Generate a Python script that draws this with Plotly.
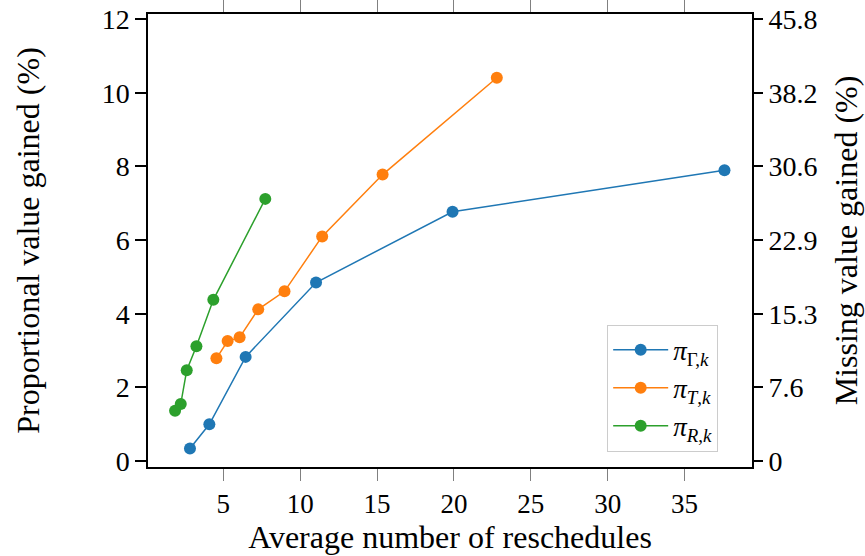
import plotly.graph_objects as go

# Data
gamma_x = [2.83, 4.09, 6.45, 11.03, 19.91, 37.60]
gamma_y = [0.34, 1.00, 2.83, 4.85, 6.77, 7.90]

t_x = [4.55, 5.28, 6.06, 7.27, 8.98, 11.43, 15.36, 22.79]
t_y = [2.79, 3.26, 3.36, 4.12, 4.61, 6.10, 7.78, 10.41]

r_x = [1.86, 2.23, 2.62, 3.25, 4.35, 7.73]
r_y = [1.37, 1.55, 2.47, 3.12, 4.38, 7.12]

left_ticks = [0, 2, 4, 6, 8, 10, 12]
right_tick_labels = ["0", "7.6", "15.3", "22.9", "30.6", "38.2", "45.8"]
x_ticks = [5, 10, 15, 20, 25, 30, 35]

series = [
    ("<i>π</i><sub>Γ,<i>k</i></sub>", gamma_x, gamma_y, "#1f77b4"),
    ("<i>π</i><sub><i>T</i>,<i>k</i></sub>", t_x, t_y, "#ff7f0e"),
    ("<i>π</i><sub><i>R</i>,<i>k</i></sub>", r_x, r_y, "#2ca02c"),
]

FONT = "Liberation Serif, Times New Roman, serif"

fig = go.Figure()
for name, xs, ys, col in series:
    fig.add_trace(go.Scatter(
        x=xs, y=ys, mode="lines+markers", name=name,
        line=dict(color=col, width=1.5),
        marker=dict(color=col, size=12),
    ))

# transparent copy on the secondary axis so that the right axis is drawn
fig.add_trace(go.Scatter(
    x=gamma_x, y=gamma_y, yaxis="y2", mode="markers",
    marker=dict(opacity=0), showlegend=False, hoverinfo="skip",
))

yrange = [-0.16, 12.14]

fig.update_layout(
    width=865, height=556,
    margin=dict(l=148, r=113, t=14, b=89),
    plot_bgcolor="white", paper_bgcolor="white",
    font=dict(family=FONT, size=27, color="black"),
    showlegend=True,
    legend=dict(
        x=0.944, y=0.034, xanchor="right", yanchor="bottom",
        bgcolor="white", bordercolor="#cccccc", borderwidth=1,
        font=dict(family=FONT, size=27),
        itemwidth=55, tracegroupgap=0,
    ),
    xaxis=dict(
        range=[0.1, 39.39], tickvals=x_ticks, automargin=False,
        ticks="outside", ticklen=12, tickcolor="gray", tickwidth=1.3,
        showline=True, linecolor="black", linewidth=1.5, mirror="ticks",
        showgrid=False, zeroline=False,
        tickfont=dict(size=27),
        title=dict(text="Average number of reschedules", font=dict(size=32), standoff=4),
    ),
    yaxis=dict(
        range=yrange, tickvals=left_ticks, automargin=False,
        ticks="outside", ticklen=11, tickcolor="black", tickwidth=1.5,
        showline=True, linecolor="black", linewidth=1.5, mirror=True,
        showgrid=False, zeroline=False,
        tickfont=dict(size=28),
        title=dict(text="Proportional value gained (%)", font=dict(size=32), standoff=52),
    ),
    yaxis2=dict(
        range=yrange, overlaying="y", side="right", anchor="x", automargin=False,
        tickvals=left_ticks, ticktext=right_tick_labels,
        ticks="outside", ticklen=10, tickcolor="black", tickwidth=1.5,
        showline=False, showgrid=False, zeroline=False,
        tickfont=dict(size=28),
        title=dict(text="Missing value gained (%)", font=dict(size=32), standoff=18),
    ),
)

fig.write_html("out.html")
